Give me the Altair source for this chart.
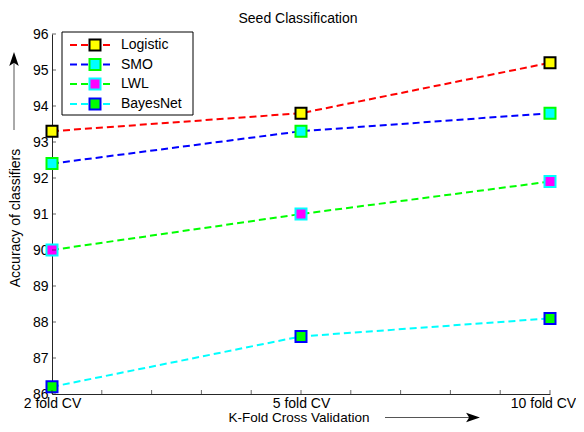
import json
import altair as alt
import pandas as pd

# ---------------- data ----------------
series = ["Logistic", "SMO", "LWL", "BayesNet"]
fold_labels = ["2 fold CV", "5 fold CV", "10 fold CV"]
fold_pos = [1, 2, 3]
logistic = [93.3, 93.8, 95.2]
smo = [92.4, 93.3, 93.8]
lwl = [90.0, 91.0, 91.9]
bayesnet = [86.2, 87.6, 88.1]
line_colors = ["#ff0000", "#0000ff", "#00ff00", "#00ffff"]
marker_fill = ["#ffff00", "#00ffff", "#ff00ff", "#00ff00"]
marker_edge = ["#000000", "#00ff00", "#00ffff", "#0000ff"]
y_ticks = [86, 87, 88, 89, 90, 91, 92, 93, 94, 95, 96]
x_minor_ticks = [1.0, 1.2, 1.4, 1.6, 1.8, 2.0, 2.2, 2.4, 2.6, 2.8, 3.0]
title_text = "Seed Classification"
x_title = "K-Fold Cross Validation"
y_title = "Accuracy of classifiers"

values = [logistic, smo, lwl, bayesnet]
rows = []
for s, vals in zip(series, values):
    for p, v in zip(fold_pos, vals):
        rows.append({"series": s, "pos": p, "acc": v})
df = pd.DataFrame(rows)

W, H = 498, 360
FONT = "Liberation Sans"
AX = "#262626"

label_expr = json.dumps(fold_labels) + "[datum.value - 1]"

x_scale = alt.Scale(domain=[1, 3], nice=False, zero=False)
y_scale = alt.Scale(domain=[86, 96], nice=False, zero=False)

x_axis = alt.Axis(values=fold_pos, labelExpr=label_expr, title=None,
                  ticks=False, grid=False, domainColor=AX, domainWidth=1,
                  labelFontSize=14, labelColor="#000000", labelPadding=2,
                  labelFont=FONT, labelFlush=False, labelOverlap=False,
                  labelOffset={"condition": {"test": "datum.value == 3", "value": -7},
                               "value": 0})
y_axis = alt.Axis(values=y_ticks, title=None, ticks=False, grid=False,
                  domainColor=AX, domainWidth=1, labelFontSize=14,
                  labelColor="#000000", labelPadding=4, labelFont=FONT,
                  labelOverlap=False, labelFlush=False)

x_enc = alt.X("pos:Q", scale=x_scale, axis=x_axis)
y_enc = alt.Y("acc:Q", scale=y_scale, axis=y_axis)

lines = alt.Chart(df).mark_line(strokeDash=[7, 4], strokeWidth=2).encode(
    x=x_enc, y=y_enc,
    color=alt.Color("series:N", scale=alt.Scale(domain=series, range=line_colors), legend=None),
)

points = alt.Chart(df).mark_point(shape="square", filled=True, size=121,
                                  strokeWidth=2, opacity=1, fillOpacity=1).encode(
    x=x_enc, y=y_enc,
    fill=alt.Fill("series:N", scale=alt.Scale(domain=series, range=marker_fill), legend=None),
    stroke=alt.Stroke("series:N", scale=alt.Scale(domain=series, range=marker_edge), legend=None),
)

yticks = alt.Chart(pd.DataFrame({"acc": y_ticks})).mark_tick(
    size=4, thickness=1, color=AX).encode(x=alt.value(2), y=y_enc)

xticks = alt.Chart(pd.DataFrame({"pos": x_minor_ticks})).mark_tick(
    size=4, thickness=1, color=AX).encode(x=x_enc, y=alt.value(H - 2))

txt = dict(font=FONT, color="#000000")

title = alt.Chart(pd.DataFrame({"t": [title_text]})).mark_text(
    fontSize=14, baseline="middle", align="center", **txt).encode(
    text="t:N", x=alt.value(246), y=alt.value(-15.5))

xtitle = alt.Chart(pd.DataFrame({"t": [x_title]})).mark_text(
    fontSize=13.5, baseline="alphabetic", align="center", **txt).encode(
    text="t:N", x=alt.value(247), y=alt.value(388))

ytitle = alt.Chart(pd.DataFrame({"t": [y_title]})).mark_text(
    fontSize=14, baseline="middle", align="center", angle=270, **txt).encode(
    text="t:N", x=alt.value(-36.5), y=alt.value(184))

one = pd.DataFrame({"k": [0]})
yarrow = alt.Chart(one).mark_rule(color="#555555", strokeWidth=1).encode(
    x=alt.value(-38), y=alt.value(96), y2=alt.value(26))
yhead = alt.Chart(one).mark_point(
    shape="M0,-1L0.55,0.6L0,0.25L-0.55,0.6Z", filled=True, size=300,
    color="#000000", opacity=1).encode(x=alt.value(-38), y=alt.value(26.7))
xarrow = alt.Chart(one).mark_rule(color="#555555", strokeWidth=1).encode(
    x=alt.value(333), x2=alt.value(420), y=alt.value(383.5))
xhead = alt.Chart(one).mark_point(
    shape="M1,0L-0.6,0.55L-0.25,0L-0.6,-0.55Z", filled=True, size=300,
    color="#000000", opacity=1).encode(x=alt.value(419.3), y=alt.value(383.5))

# legend
leg_box = alt.Chart(one).mark_rect(fill="#ffffff", stroke="#000000", strokeWidth=1).encode(
    x=alt.value(10), x2=alt.value(141), y=alt.value(-2), y2=alt.value(81))
leg_layers = [leg_box]
row_y = [11, 30.5, 50, 70]
for s, lc, mf, me, ry in zip(series, line_colors, marker_fill, marker_edge, row_y):
    d = pd.DataFrame({"series": [s]})
    leg_layers.append(alt.Chart(d).mark_rule(strokeDash=[7, 4], strokeWidth=2, color=lc).encode(
        x=alt.value(18), x2=alt.value(62), y=alt.value(ry)))
    leg_layers.append(alt.Chart(d).mark_point(shape="square", filled=True, size=121, strokeWidth=2,
                                              fill=mf, stroke=me, opacity=1).encode(
        x=alt.value(43), y=alt.value(ry)))
    leg_layers.append(alt.Chart(d).mark_text(fontSize=14, align="left", baseline="middle", **txt).encode(
        text="series:N", x=alt.value(69), y=alt.value(ry)))

chart = alt.layer(
    lines, points, yticks, xticks, title, xtitle, ytitle, yarrow, yhead, xarrow, xhead, *leg_layers
).properties(
    width=W, height=H,
    autosize=alt.AutoSizeParams(type="none"),
    padding={"left": 44, "top": 26, "right": 26, "bottom": 30},
    background="#ffffff",
).configure_view(strokeWidth=0).configure_axis(labelFont=FONT)

chart.save("out.html", embed_options={"renderer": "svg", "actions": False})
